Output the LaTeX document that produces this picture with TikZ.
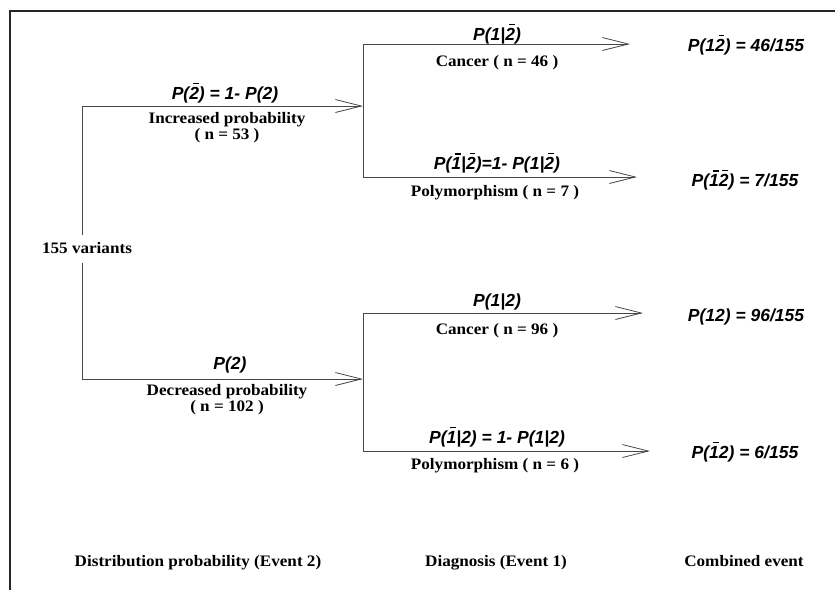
\documentclass[tikz,border=0pt]{standalone}
\usepackage{fontspec}
\setmainfont{Liberation Serif}[FakeStretch=1.07]
\newfontfamily\pfont{Liberation Sans}
\usetikzlibrary{arrows.meta}
\newcommand\ob[1]{{\setbox0\hbox{#1}\rlap{\kern.36\wd0\raise\dimexpr\ht0+3pt\relax\hbox{\vrule width .6\wd0 height 1.6pt depth 0pt}}\box0}}
\begin{document}
\begin{tikzpicture}[x=1pt,y=-1pt,
  line/.style={draw=black!72, line width=1pt},
  arr/.style={line, -{Straight Barb[length=26pt,width=13pt,line width=0.8pt]}},
  desc/.style={font=\fontsize{16}{19}\selectfont\bfseries, inner sep=0pt, text=black, text height=11.5pt, text depth=3.5pt},
  prob/.style={font=\pfont\fontsize{17.5}{20}\selectfont\bfseries\itshape, inner sep=0pt, text=black},
  frame/.style={draw=black!85, line width=1.2pt}]
\useasboundingbox (0,0) rectangle (835,590);
\draw[frame] (10,590) -- (10,11) -- (835,11);

% root
\node[desc, minimum height=28pt] (root) at (87,249) {155 variants};
\coordinate (rA) at (82,106);
\coordinate (rB) at (82,379);
\coordinate (jA) at (363,106);
\coordinate (jB) at (363,379);
\draw[arr] (root.north -| rA) -- (rA) -- (jA);
\draw[arr] (root.south -| rB) -- (rB) -- (jB);

% upper junction
\coordinate (uA) at (363,44);
\coordinate (uB) at (363,177);
\coordinate (tA) at (630,44);
\coordinate (tB) at (637,177);
\draw[line] (uA) -- (uB);
\draw[arr] (uA) -- (tA);
\draw[arr] (uB) -- (tB);

% lower junction
\coordinate (lA) at (363,313);
\coordinate (lB) at (363,451);
\coordinate (tC) at (643,313);
\coordinate (tD) at (650,451);
\draw[line] (lA) -- (lB);
\draw[arr] (lA) -- (tC);
\draw[arr] (lB) -- (tD);

% event 2 labels
\node[prob] (p2b) at (225,93) {P(\ob{2}) = 1- P(2)};
\node[desc] (inc) at (227,119) {Increased probability};
\node[desc] (n53) at (227,135) {( n = 53 )};
\node[prob] (p2) at (230,365) {P(2)};
\node[desc] (dec) at (227,391) {Decreased probability};
\node[desc] (n102) at (227,407) {( n = 102 )};

% event 1 labels
\node[prob] (p12b) at (497,34) {P(1|\ob{2})};
\node[desc] (c46) at (497,62) {Cancer ( n = 46 )};
\node[prob] (p1b2b) at (497,163) {P(\ob{1}|\ob{2})=1- P(1|\ob{2})};
\node[desc] (poly7) at (495,192) {Polymorphism ( n = 7 )};
\node[prob] (p1g2) at (497,302) {P(1|2)};
\node[desc] (c96) at (497,330) {Cancer ( n = 96 )};
\node[prob] (p1b2) at (497,437) {P(\ob{1}|2) = 1- P(1|2)};
\node[desc] (poly6) at (495,465) {Polymorphism ( n = 6 )};

% combined
\node[prob] (k1) at (746,45) {P(1\ob{2}) = 46/155};
\node[prob] (k2) at (745,180) {P(\ob{1}\ob{2}) = 7/155};
\node[prob] (k3) at (746,317) {P(12) = 96/155};
\node[prob] (k4) at (745,452) {P(\ob{1}2) = 6/155};

% bottom
\node[desc] (h1) at (198,562) {Distribution probability (Event 2)};
\node[desc] (h2) at (496,562) {Diagnosis (Event 1)};
\node[desc] (h3) at (744,562) {Combined event};
\end{tikzpicture}
\end{document}
